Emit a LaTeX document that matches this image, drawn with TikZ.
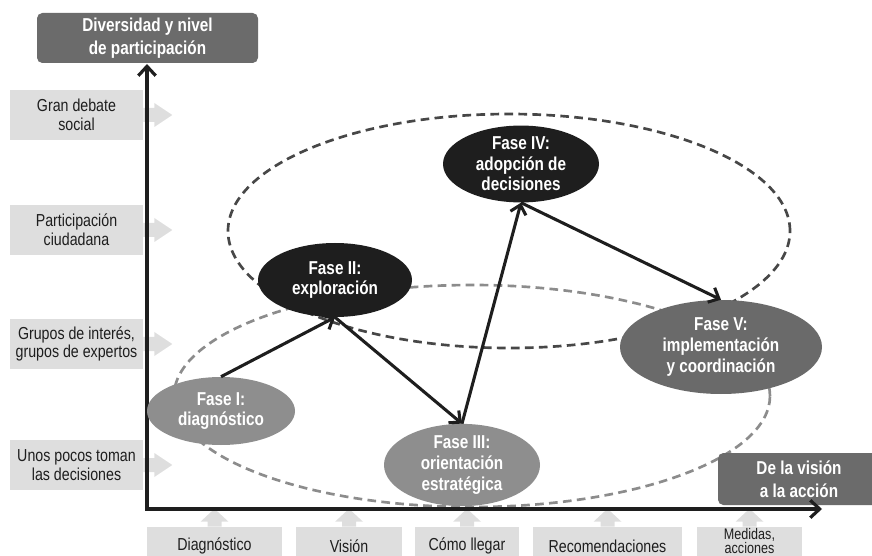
\documentclass[tikz,border=0pt]{standalone}
\usepackage{fontspec}
\setmainfont{Liberation Sans}[FakeStretch=0.82]
\usetikzlibrary{arrows.meta,shapes.geometric}
\definecolor{boxdark}{HTML}{6B6B6B}
\definecolor{fasegray}{HTML}{8E8E8E}
\definecolor{faseblack}{HTML}{1E1E1E}
\definecolor{fasedark}{HTML}{6A6A6A}
\definecolor{lbl}{HTML}{DEDEDE}
\definecolor{txt}{HTML}{1E1E1E}
\definecolor{dashdark}{HTML}{474747}
\definecolor{dashlight}{HTML}{8C8C8C}
\begin{document}
\begin{tikzpicture}[x=0.75pt,y=-0.75pt,
  lbox/.style={fill=lbl, inner sep=0pt, text=txt, align=center, font=\fontsize{13}{14}\selectfont, minimum width=99.75pt, minimum height=37.5pt},
  bbox/.style={fill=lbl, inner sep=0pt, text=txt, align=center, font=\fontsize{13}{12}\selectfont, minimum height=28.5pt},
  darkbox/.style={fill=boxdark, rounded corners=4pt, text=white, align=center, font=\fontsize{14}{17}\selectfont\bfseries, inner sep=0pt},
  fase/.style={ellipse, inner sep=0pt, text=white, align=center, font=\fontsize{14}{15.5}\selectfont\bfseries},
  zone/.style={ellipse, draw, inner sep=0pt, line width=2pt, dash pattern=on 6.5pt off 4pt},
  flow/.style={line width=2.3pt, draw=faseblack, -{Straight Barb[length=6.5pt,width=12pt]}},
  axisline/.style={line width=2.4pt, draw=faseblack, line join=miter, {Straight Barb[length=7pt,width=13pt]}-{Straight Barb[length=7pt,width=13pt]}},
  tab/.style={fill=lbl}
]
\useasboundingbox (0,0) rectangle (872,556);
\clip (0,0) rectangle (872,556);

% dashed zones
\node[zone, draw=dashlight, minimum width=447pt, minimum height=166.5pt] (zlow) at (472,396) {};
\node[zone, draw=dashdark, minimum width=421.5pt, minimum height=175.5pt] (zup) at (509,231) {};

% title boxes
\node[darkbox, minimum width=165.75pt, minimum height=37.5pt] (title) at (147.5,38) {Diversidad y nivel\\de participación};
\node[darkbox, minimum width=121.5pt, minimum height=39pt] (accion) at (799,479) {De la visión\\a la acción};

% left labels
\node[lbox] (l1) at (76.5,115) {Gran debate\\social};
\node[lbox] (l2) at (76.5,230) {Participación\\ciudadana};
\node[lbox] (l3) at (76.5,344) {Grupos de interés,\\grupos de expertos};
\node[lbox] (l4) at (76.5,465) {Unos pocos toman\\las decisiones};
\foreach \n in {l1,l2,l3,l4}{
  \fill[tab] (\n.east) ++(0,-7) -- ++(11,0) -- ++(0,-5) -- ++(18,12) -- ++(-18,12) -- ++(0,-5) -- ++(-11,0) -- cycle;
}

% bottom labels
\node[bbox, minimum width=101.25pt] (b1) at (214.5,546) {Diagnóstico};
\node[bbox, minimum width=79.5pt] (b2) at (349,546) {Visión};
\node[bbox, minimum width=78pt] (b3) at (467,546) {Cómo llegar};
\node[bbox, minimum width=111.75pt] (b4) at (607.5,546) {Recomendaciones};
\node[bbox, minimum width=78.75pt, minimum height=21pt, font=\fontsize{11.5}{9.5}\selectfont] (b5) at (749.5,541) {Medidas,\\acciones};
\fill[tab] (b5.south west) rectangle ([yshift=-20]b5.south east);
\foreach \n in {b1,b2,b3,b4,b5}{
  \fill[tab] (\n.north) ++(-7,0) -- ++(0,-5) -- ++(-7,0) -- ++(14,-13) -- ++(14,13) -- ++(-7,0) -- ++(0,5) -- cycle;
}

% axes
\coordinate (ytop) at (147,64);
\coordinate (origin) at (147,509);
\coordinate (xend) at (822,509);
\draw[axisline] (ytop) -- (origin) -- (xend);

% phases
\node[fase, fill=fasegray, minimum width=111pt, minimum height=51pt] (f1) at (221,411) {Fase I:\\diagnóstico};
\node[fase, fill=faseblack, minimum width=115.5pt, minimum height=55.5pt] (f2) at (335,280) {Fase II:\\exploración};
\node[fase, fill=fasegray, minimum width=117pt, minimum height=57pt] (f3) at (462,465) {Fase III:\\orientación\\estratégica};
\node[fase, fill=faseblack, minimum width=117pt, minimum height=54pt] (f4) at (521,164) {Fase IV:\\adopción de\\decisiones};
\node[fase, fill=fasedark, minimum width=151.5pt, minimum height=70.5pt] (f5) at (721,347) {Fase V:\\implementación\\y coordinación};

% flow arrows
\draw[flow] (f1.north) -- (f2.south);
\draw[flow] (f2.south) -- (f3.north);
\draw[flow] (f3.north) -- (f4.south);
\draw[flow] (f4.south) -- (f5.north);
\end{tikzpicture}
\end{document}
